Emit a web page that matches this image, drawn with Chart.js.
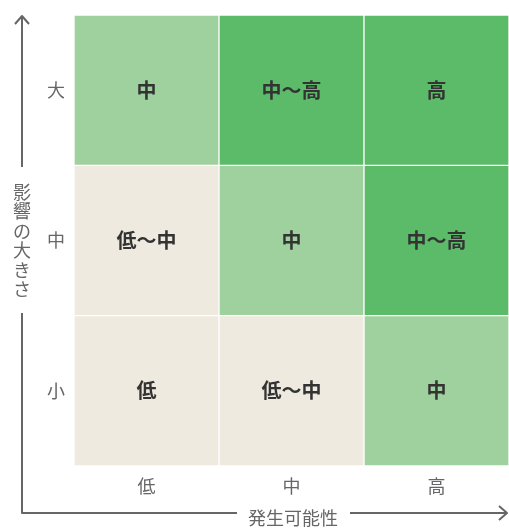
<!DOCTYPE html>
<html>
<head>
<meta charset="utf-8">
<script src="https://cdn.jsdelivr.net/npm/chart.js@4"></script>
<style>
  html, body { margin: 0; padding: 0; background: #fff; }
  #wrap { width: 509px; height: 529px; }
</style>
</head>
<body>
<div id="wrap"><canvas id="riskChart"></canvas></div>
<script>
// columns: 発生可能性, rows: 影響の大きさ (bottom to top)
const likelihood = ['低', '中', '高'];
const impact = ['小', '中', '大'];
const rowSmall = ['低', '低～中', '中'];
const rowMid = ['低～中', '中', '中～高'];
const rowLarge = ['中', '中～高', '高'];

const levelColor = {
    '低': '#eeeadf',
    '低～中': '#eeeadf',
    '中': '#9fd19f',
    '中～高': '#5bbb69',
    '高': '#5bbb69'
};
const FONT = '"Noto Sans CJK JP", "Noto Sans", sans-serif';

function rowDataset(levels) {
    return {
        data: levels.map(() => 1),
        levels: levels,
        backgroundColor: levels.map(l => levelColor[l]),
        borderColor: '#ffffff',
        borderWidth: 1,
        borderSkipped: false,
        barPercentage: 1,
        categoryPercentage: 1
    };
}

const cellText = {
    id: 'cellText',
    afterDatasetsDraw(chart) {
        const ctx = chart.ctx;
        ctx.save();
        ctx.font = 'bold 20px ' + FONT;
        ctx.fillStyle = '#333333';
        ctx.textAlign = 'center';
        ctx.textBaseline = 'middle';
        chart.data.datasets.forEach((ds, i) => {
            chart.getDatasetMeta(i).data.forEach((bar, j) => {
                ctx.fillText(ds.levels[j], bar.x, (bar.y + bar.base) / 2);
            });
        });
        ctx.restore();
    }
};

const axisArrows = {
    id: 'axisArrows',
    afterDraw(chart) {
        const ctx = chart.ctx;
        const lx = 22, by = 513, right = 507;
        ctx.save();
        ctx.strokeStyle = '#666666';
        ctx.lineWidth = 2;
        ctx.lineJoin = 'round';
        // vertical arrow
        ctx.beginPath();
        ctx.moveTo(lx, 167);
        ctx.lineTo(lx, 16);
        ctx.moveTo(lx - 7, 24);
        ctx.lineTo(lx, 16);
        ctx.lineTo(lx + 7, 24);
        ctx.stroke();
        ctx.beginPath();
        ctx.moveTo(lx, 313);
        ctx.lineTo(lx, by);
        ctx.lineTo(237, by);
        ctx.stroke();
        // horizontal arrow
        ctx.beginPath();
        ctx.moveTo(350, by);
        ctx.lineTo(right, by);
        ctx.moveTo(right - 8, by - 7);
        ctx.lineTo(right, by);
        ctx.lineTo(right - 8, by + 7);
        ctx.stroke();
        // titles
        ctx.fillStyle = '#666666';
        ctx.font = '18px ' + FONT;
        ctx.textAlign = 'center';
        ctx.textBaseline = 'middle';
        ctx.fillText('発生可能性', 293, 518);
        const vt = '影響の大きさ';
        for (let k = 0; k < vt.length; k++) {
            ctx.fillText(vt[k], lx, 192 + k * 19.5);
        }
        ctx.restore();
    }
};

new Chart(document.getElementById('riskChart'), {
    type: 'bar',
    data: {
        labels: likelihood,
        datasets: [rowDataset(rowSmall), rowDataset(rowMid), rowDataset(rowLarge)]
    },
    options: {
        responsive: true,
        maintainAspectRatio: false,
        animation: false,
        layout: { padding: { top: 15, right: 0, left: 0, bottom: 0 } },
        plugins: { legend: { display: false }, tooltip: { enabled: false } },
        scales: {
            x: {
                stacked: true,
                grid: { display: false, drawTicks: false },
                border: { display: false },
                ticks: { color: '#666666', font: { family: FONT, size: 18 }, padding: 9 },
                afterFit(scale) {
                    scale.height = 63;
                    scale.paddingLeft = 0;
                    scale.paddingRight = 0;
                }
            },
            y: {
                stacked: true,
                min: 0,
                max: 3,
                grid: { display: false, drawTicks: false },
                border: { display: false },
                afterBuildTicks(scale) {
                    scale.ticks = [{ value: 0.5 }, { value: 1.5 }, { value: 2.5 }];
                },
                ticks: {
                    color: '#666666',
                    font: { family: FONT, size: 18 },
                    padding: 9,
                    callback: (v) => impact[Math.floor(v)]
                },
                afterFit(scale) {
                    scale.width = 74;
                    scale.paddingTop = 0;
                    scale.paddingBottom = 0;
                }
            }
        }
    },
    plugins: [cellText, axisArrows]
});
</script>
</body>
</html>
